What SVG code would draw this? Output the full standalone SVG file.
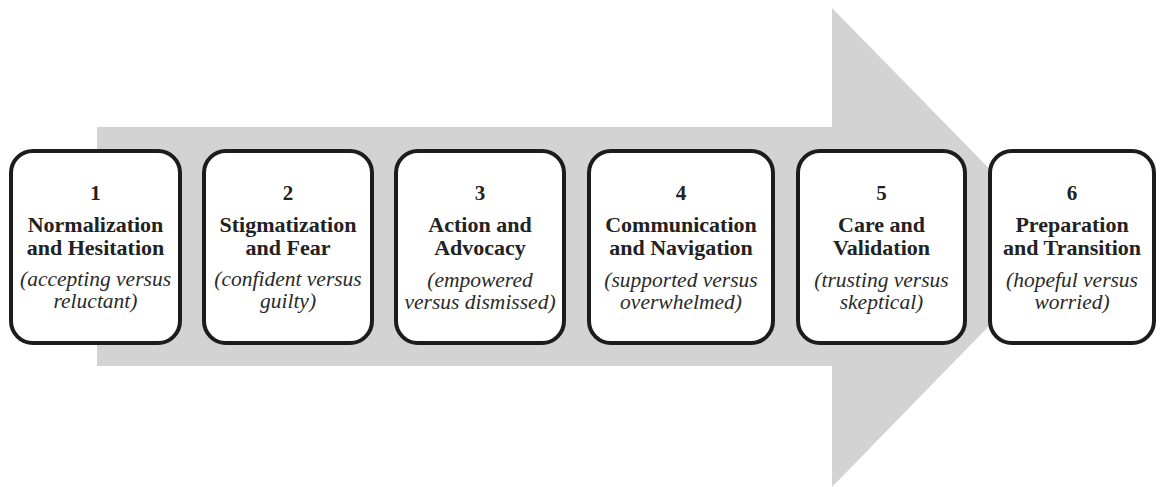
<svg xmlns="http://www.w3.org/2000/svg" width="1160" height="487" viewBox="0 0 1160 487">
  <style>
    .box { fill: #ffffff; stroke: #1c1c1c; stroke-width: 4; }
    text { font-family: 'Liberation Serif', 'Times New Roman', Times, serif; text-anchor: middle; }
    .num { font-weight: bold; font-size: 21px; fill: #222222; }
    .title { font-weight: bold; font-size: 22px; fill: #222222; }
    .sub { font-style: italic; font-size: 21.5px; fill: #2a2a2a; }
  </style>

  <!-- background progress arrow -->
  <g id="connectors">
    <path d="M97,127 H832 V8 L1066,247 L832,487 V366 H97 Z" fill="#d3d3d3"/>
  </g>

  <g id="stage1">
    <rect class="box" x="11" y="151" width="169" height="192" rx="22"/>
    <text class="num" x="95.5" y="200">1</text>
    <text class="title" x="95.5" y="232">Normalization</text>
    <text class="title" x="95.5" y="255">and Hesitation</text>
    <text class="sub" x="95.5" y="286">(accepting versus</text>
    <text class="sub" x="95.5" y="308">reluctant)</text>
  </g>

  <g id="stage2">
    <rect class="box" x="204" y="151" width="168" height="192" rx="22"/>
    <text class="num" x="288" y="200">2</text>
    <text class="title" x="288" y="232">Stigmatization</text>
    <text class="title" x="288" y="255">and Fear</text>
    <text class="sub" x="288" y="286">(confident versus</text>
    <text class="sub" x="288" y="308">guilty)</text>
  </g>

  <g id="stage3">
    <rect class="box" x="396" y="151" width="168" height="192" rx="22"/>
    <text class="num" x="480" y="200">3</text>
    <text class="title" x="480" y="232">Action and</text>
    <text class="title" x="480" y="255">Advocacy</text>
    <text class="sub" x="480" y="287">(empowered</text>
    <text class="sub" x="480" y="309">versus dismissed)</text>
  </g>

  <g id="stage4">
    <rect class="box" x="589" y="151" width="184" height="192" rx="22"/>
    <text class="num" x="681" y="200">4</text>
    <text class="title" x="681" y="232">Communication</text>
    <text class="title" x="681" y="255">and Navigation</text>
    <text class="sub" x="681" y="287">(supported versus</text>
    <text class="sub" x="681" y="309">overwhelmed)</text>
  </g>

  <g id="stage5">
    <rect class="box" x="798" y="151" width="167" height="192" rx="22"/>
    <text class="num" x="881.5" y="200">5</text>
    <text class="title" x="881.5" y="232">Care and</text>
    <text class="title" x="881.5" y="255">Validation</text>
    <text class="sub" x="881.5" y="287">(trusting versus</text>
    <text class="sub" x="881.5" y="309">skeptical)</text>
  </g>

  <g id="stage6">
    <rect class="box" x="990" y="151" width="164" height="192" rx="22"/>
    <text class="num" x="1072" y="200">6</text>
    <text class="title" x="1072" y="232">Preparation</text>
    <text class="title" x="1072" y="255">and Transition</text>
    <text class="sub" x="1072" y="287">(hopeful versus</text>
    <text class="sub" x="1072" y="309">worried)</text>
  </g>
</svg>
